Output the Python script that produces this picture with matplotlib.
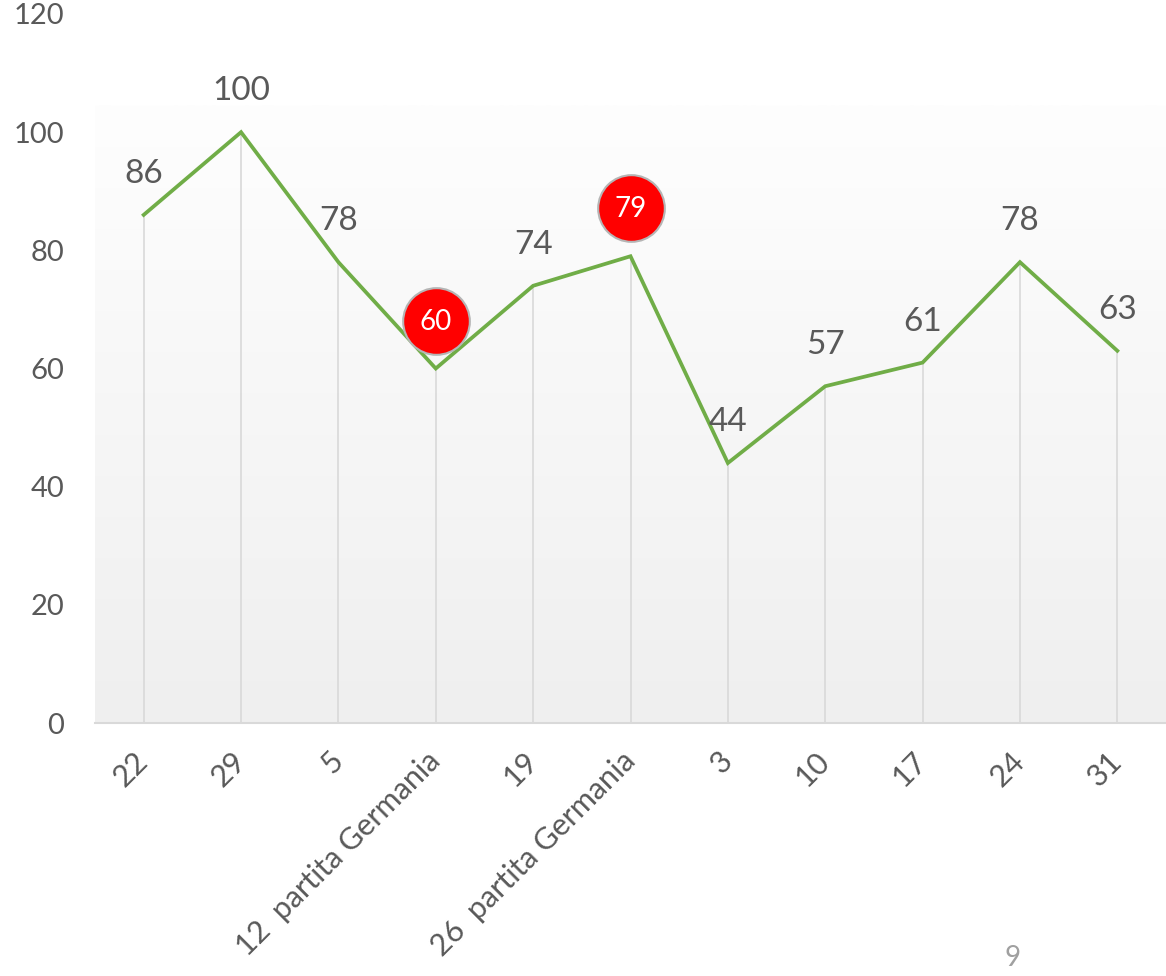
import matplotlib
matplotlib.use("Agg")
import matplotlib.pyplot as plt
import numpy as np

plt.rcParams['font.family'] = ['Lato', 'DejaVu Sans']

categories = ["22", "29", "5", "12  partita Germania", "19", "26  partita Germania",
              "3", "10", "17", "24", "31"]
values = [86, 100, 78, 60, 74, 79, 44, 57, 61, 78, 63]
highlight = [3, 5]
yticks = [0, 20, 40, 60, 80, 100, 120]

TXT = "#595959"
GREEN = "#70AD47"

fig = plt.figure(figsize=(11.66, 9.76), dpi=100)
ax = fig.add_axes([95/1166, (976-723)/976, 1 - 95/1166, (723-14)/976])

x = np.arange(len(values))
ax.set_xlim(-0.5, len(values) - 0.5)
ax.set_ylim(0, 120)

# gradient plot-area background
grad = np.linspace(0, 1, 256).reshape(-1, 1)
top_frac = (723 - 105) / (723 - 14)
ax.imshow(grad, extent=[0, 1, 0, top_frac], transform=ax.transAxes,
          cmap=matplotlib.colors.LinearSegmentedColormap.from_list("g", ["#efefef", "#fefefe"]),
          aspect='auto', origin='lower', zorder=0)

# drop lines
ax.vlines(x, 0, values, colors="#d9d9d9", linewidth=1.2, zorder=1)

ax.plot(x, values, color=GREEN, linewidth=2.7, zorder=3, solid_joinstyle='miter')

off = matplotlib.transforms.ScaledTranslation(0, 48/100, fig.dpi_scale_trans)
for i, v in enumerate(values):
    if i in highlight:
        ax.plot([i], [v], marker='o', markersize=48, markerfacecolor='#ff0000',
                markeredgecolor='#b5b5b5', markeredgewidth=1.5, linestyle='none',
                zorder=4, transform=ax.transData + off)
        ax.annotate(str(v), (i, v), xytext=(0, 47), textcoords='offset pixels',
                    ha='center', va='center', fontsize=20, color='white', zorder=5)
    else:
        ax.annotate(str(v), (i, v), xytext=(0, 41), textcoords='offset pixels',
                    ha='center', va='center', fontsize=24, color=TXT, zorder=5)

ax.set_xticks(x)
ax.set_xticklabels(categories, rotation=45, ha='right', va='center',
                   rotation_mode='anchor', fontsize=22, color=TXT)
ax.tick_params(axis='x', length=0, pad=24)
ax.set_yticks(yticks)
ax.set_yticklabels([str(t) for t in yticks], fontsize=21, color=TXT)
ax.tick_params(axis='y', length=0, pad=22)

for s in ['top', 'right', 'left']:
    ax.spines[s].set_visible(False)
ax.spines['bottom'].set_color('#d9d9d9')
ax.spines['bottom'].set_linewidth(1.5)
ax.set_facecolor('none')

fig.text(1013/1166, 1 - 958/976, "9", ha='center', va='center', fontsize=20, color='#a0a0a0')

fig.savefig("out.png", dpi=100)
